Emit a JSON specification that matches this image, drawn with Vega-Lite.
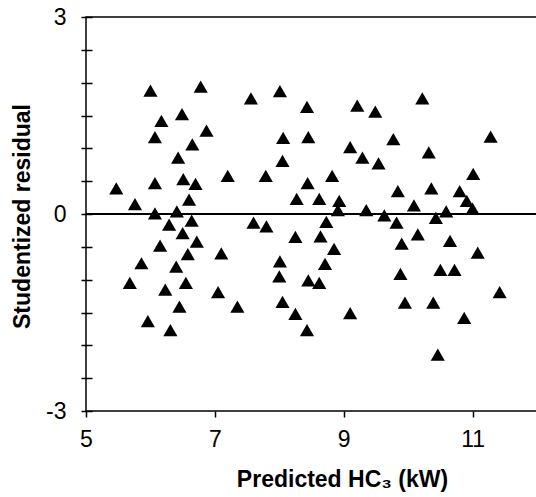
{
  "$schema": "https://vega.github.io/schema/vega-lite/v6.json",
  "autosize": {"type": "none"},
  "padding": {"left": 86, "top": 17, "right": 0, "bottom": 86},
  "width": 451,
  "height": 394,
  "background": "white",
  "config": {
    "font": "Liberation Sans",
    "view": {"stroke": "black", "strokeWidth": 1.5},
    "axis": {"grid": false, "labelFlush": false, "labelColor": "black", "tickColor": "black", "titleColor": "black", "labelFont": "Liberation Sans", "titleFont": "Liberation Sans"}
  },
  "data": {
    "values": [
      {"pred": 5.47, "resid": 0.39}, {"pred": 5.76, "resid": 0.15}, {"pred": 5.68, "resid": -1.05}, {"pred": 5.86, "resid": -0.75},
      {"pred": 6.00, "resid": 1.88}, {"pred": 5.96, "resid": -1.63}, {"pred": 6.07, "resid": 1.17}, {"pred": 6.07, "resid": 0.47},
      {"pred": 6.07, "resid": 0.01}, {"pred": 6.17, "resid": 1.42}, {"pred": 6.15, "resid": -0.48}, {"pred": 6.23, "resid": -1.15},
      {"pred": 6.29, "resid": -0.16}, {"pred": 6.31, "resid": -1.77}, {"pred": 6.49, "resid": 1.52}, {"pred": 6.43, "resid": 0.86},
      {"pred": 6.41, "resid": 0.04}, {"pred": 6.40, "resid": -0.80}, {"pred": 6.45, "resid": -1.41}, {"pred": 6.50, "resid": -0.29},
      {"pred": 6.51, "resid": 0.53}, {"pred": 6.55, "resid": -1.05}, {"pred": 6.58, "resid": -0.61}, {"pred": 6.60, "resid": 0.22},
      {"pred": 6.64, "resid": -0.10}, {"pred": 6.65, "resid": 1.06}, {"pred": 6.70, "resid": 0.46}, {"pred": 6.72, "resid": -0.42},
      {"pred": 6.78, "resid": 1.94}, {"pred": 6.87, "resid": 1.27}, {"pred": 7.20, "resid": 0.58}, {"pred": 7.10, "resid": -0.60},
      {"pred": 7.05, "resid": -1.19}, {"pred": 7.35, "resid": -1.41}, {"pred": 7.56, "resid": 1.76}, {"pred": 7.60, "resid": -0.13},
      {"pred": 7.80, "resid": -0.19}, {"pred": 7.79, "resid": 0.58}, {"pred": 8.01, "resid": 1.87}, {"pred": 8.06, "resid": 1.16},
      {"pred": 8.05, "resid": 0.81}, {"pred": 8.01, "resid": -0.72}, {"pred": 8.00, "resid": -0.95}, {"pred": 8.05, "resid": -1.34},
      {"pred": 8.25, "resid": -1.52}, {"pred": 8.27, "resid": 0.23}, {"pred": 8.25, "resid": -0.35}, {"pred": 8.43, "resid": 1.63},
      {"pred": 8.45, "resid": 1.17}, {"pred": 8.44, "resid": 0.47}, {"pred": 8.45, "resid": -1.01}, {"pred": 8.43, "resid": -1.77},
      {"pred": 8.62, "resid": 0.23}, {"pred": 8.64, "resid": -0.34}, {"pred": 8.62, "resid": -1.05}, {"pred": 8.73, "resid": -0.12},
      {"pred": 8.71, "resid": -0.76}, {"pred": 8.82, "resid": 0.58}, {"pred": 8.85, "resid": -0.53}, {"pred": 8.93, "resid": 0.20},
      {"pred": 8.91, "resid": 0.06}, {"pred": 9.10, "resid": -1.51}, {"pred": 9.10, "resid": 1.02}, {"pred": 9.21, "resid": 1.65},
      {"pred": 9.29, "resid": 0.86}, {"pred": 9.35, "resid": 0.06}, {"pred": 9.49, "resid": 1.56}, {"pred": 9.54, "resid": 0.77},
      {"pred": 9.63, "resid": -0.02}, {"pred": 9.77, "resid": 1.14}, {"pred": 9.82, "resid": -0.13}, {"pred": 9.84, "resid": 0.35},
      {"pred": 9.90, "resid": -0.45}, {"pred": 9.88, "resid": -0.91}, {"pred": 9.95, "resid": -1.35}, {"pred": 10.09, "resid": 0.13},
      {"pred": 10.15, "resid": -0.31}, {"pred": 10.22, "resid": 1.76}, {"pred": 10.32, "resid": 0.94}, {"pred": 10.36, "resid": 0.39},
      {"pred": 10.43, "resid": -0.06}, {"pred": 10.39, "resid": -1.35}, {"pred": 10.50, "resid": -0.85}, {"pred": 10.46, "resid": -2.14},
      {"pred": 10.59, "resid": 0.04}, {"pred": 10.65, "resid": -0.41}, {"pred": 10.72, "resid": -0.85}, {"pred": 10.80, "resid": 0.35},
      {"pred": 10.91, "resid": 0.20}, {"pred": 11.00, "resid": 0.08}, {"pred": 10.87, "resid": -1.58}, {"pred": 11.01, "resid": 0.61},
      {"pred": 11.08, "resid": -0.59}, {"pred": 11.28, "resid": 1.18}, {"pred": 11.42, "resid": -1.19}
    ]
  },
  "layer": [
    {
      "mark": {"type": "point", "shape": "triangle-up", "filled": true, "color": "black", "opacity": 1, "size": 200},
      "encoding": {
        "x": {
          "field": "pred", "type": "quantitative",
          "scale": {"domain": [5, 12], "nice": false, "zero": false},
          "axis": {
            "values": [5, 7, 9, 11],
            "domain": false,
            "tickSize": 6, "tickWidth": 1.5,
            "labelFontSize": 23, "labelPadding": 11,
            "title": "Predicted HC₃ (kW)",
            "titleFontSize": 23, "titleFontWeight": "bold",
            "titleX": 256, "titleY": 75, "titleAlign": "center", "titleBaseline": "alphabetic"
          }
        },
        "y": {
          "field": "resid", "type": "quantitative",
          "scale": {"domain": [-3, 3], "nice": false},
          "axis": {
            "values": [-3, -2.5, -2, -1.5, -1, -0.5, 0, 0.5, 1, 1.5, 2, 2.5, 3],
            "labelExpr": "datum.value == 3 ? '3' : datum.value == 0 ? '0' : datum.value == -3 ? '-3' : ''",
            "domain": false,
            "offset": -6,
            "tickSize": 11, "tickWidth": 1.5,
            "labelFontSize": 23, "labelPadding": 15,
            "title": "Studentized residual",
            "titleFontSize": 23, "titleFontWeight": "bold",
            "titleAngle": 270, "titleBaseline": "bottom", "titleAlign": "center",
            "titleX": -58, "titleY": 199
          }
        }
      }
    },
    {
      "mark": {"type": "rule", "color": "black", "strokeWidth": 1.5},
      "encoding": {
        "y": {
          "datum": 0, "type": "quantitative",
          "scale": {"domain": [-3, 3], "nice": false},
          "axis": {
            "values": [-3, -2.5, -2, -1.5, -1, -0.5, 0, 0.5, 1, 1.5, 2, 2.5, 3],
            "labelExpr": "datum.value == 3 ? '3' : datum.value == 0 ? '0' : datum.value == -3 ? '-3' : ''",
            "domain": false,
            "offset": -6,
            "tickSize": 11, "tickWidth": 1.5,
            "labelFontSize": 23, "labelPadding": 15,
            "title": "Studentized residual",
            "titleFontSize": 23, "titleFontWeight": "bold",
            "titleAngle": 270, "titleBaseline": "bottom", "titleAlign": "center",
            "titleX": -58, "titleY": 199
          }
        }
      }
    }
  ]
}
